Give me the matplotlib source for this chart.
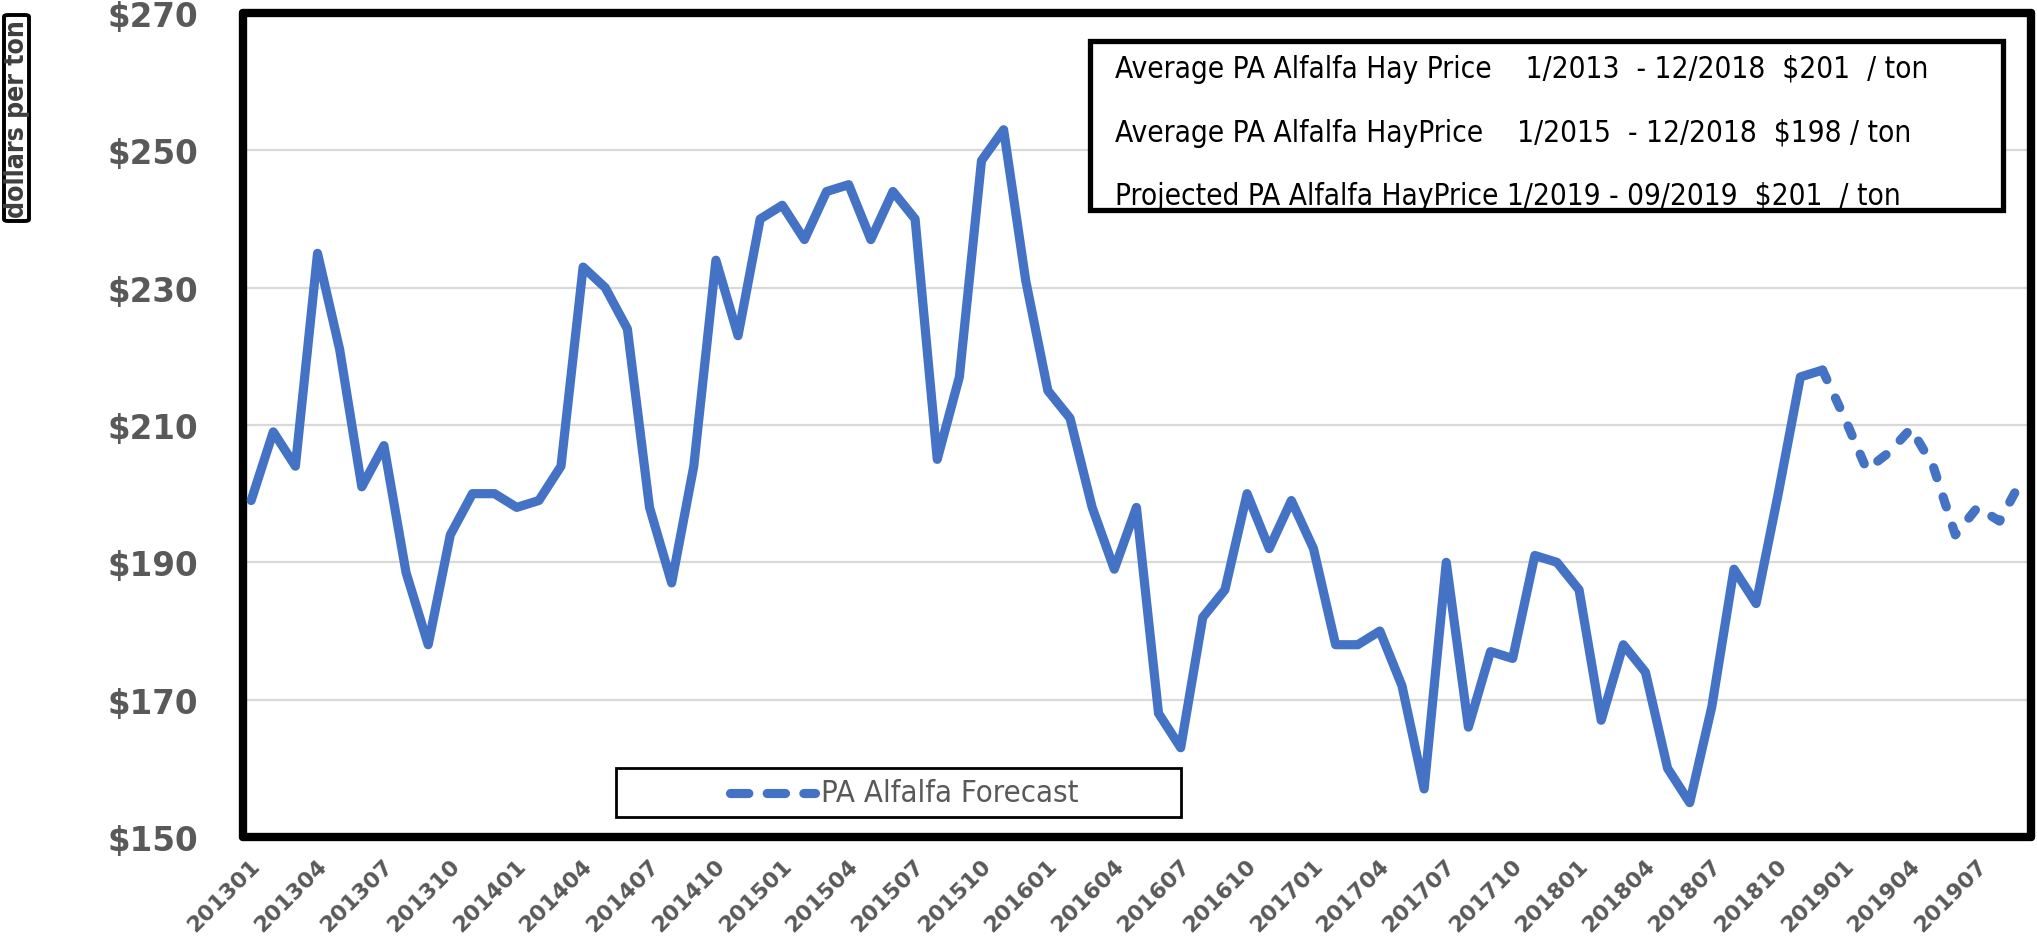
import matplotlib
matplotlib.use("Agg")
import matplotlib.pyplot as plt
from matplotlib.lines import Line2D
from matplotlib.patches import Rectangle, FancyBboxPatch
from matplotlib import font_manager as fm
from matplotlib.transforms import ScaledTranslation
import numpy as np

# ---------------- data ----------------
categories = [f"{y}{m:02d}" for y in range(2013, 2020) for m in range(1, 13)][:81]

# monthly PA alfalfa hay price, 201301 - 201812 ($/ton)
actual = [199, 209, 204, 235, 221, 201, 207, 188.5, 178, 194, 200, 200,
          198, 199, 204, 233, 230, 224, 198, 187, 204, 234, 223, 240,
          242, 237, 244, 245, 237, 244, 240, 205, 217, 248.5, 253, 231,
          215, 211, 198, 189, 198, 168, 163, 182, 186, 200, 192, 199,
          192, 178, 178, 180, 172, 157, 190, 166, 177, 176, 191, 190,
          186, 167, 178, 174, 160, 155, 169, 189, 184, 200, 217, 218]
# forecast, 201812 - 201909
forecast = [218, 211, 203.5, 206, 209.5, 204, 194, 198, 196, 202]

ytick_values = [150, 170, 190, 210, 230, 250, 270]
ytick_labels = ["$150", "$170", "$190", "$210", "$230", "$250", "$270"]
xtick_step = 3

info_lines = [
    "Average PA Alfalfa Hay Price    1/2013  - 12/2018  $201  / ton",
    "Average PA Alfalfa HayPrice    1/2015  - 12/2018  $198 / ton",
    "Projected PA Alfalfa HayPrice 1/2019 - 09/2019  $201  / ton",
]
legend_label = "PA Alfalfa Forecast"
ylabel_text = "dollars per ton"

# ---------------- fonts ----------------
names = {f.name for f in fm.fontManager.ttflist}
if "Liberation Sans Narrow" in names:
    NARROW = dict(family=["Liberation Sans Narrow", "DejaVu Sans"], stretch="normal")
elif any(f.name == "DejaVu Sans" and str(f.stretch) in ("condensed", "semi-condensed")
         for f in fm.fontManager.ttflist):
    NARROW = dict(family=["DejaVu Sans"], stretch="condensed")
else:
    NARROW = dict(family=["Roboto", "DejaVu Sans"], stretch="normal")
TICKFONT = ["DejaVu Sans"]

# ---------------- style ----------------
BLUE = "#4472C4"
GREY = "#595959"
W, H = 2037, 945

fig = plt.figure(figsize=(W / 100, H / 100), dpi=100)
fx = lambda px: px / W
fy = lambda py: 1 - py / H

ax = fig.add_axes([fx(242.5), fy(838), fx(2031) - fx(242.5), fy(14) - fy(838)])

x_act = np.arange(len(actual))
x_fc = np.arange(len(actual) - 1, len(actual) - 1 + len(forecast))
ax.plot(x_act, actual, color=BLUE, lw=6.6, solid_joinstyle="round",
        solid_capstyle="round", zorder=3)
ax.plot(x_fc, forecast, color=BLUE, lw=6.6, dashes=(1.15, 2.2),
        dash_capstyle="round", dash_joinstyle="round", zorder=3)

ax.set_xlim(-0.39, len(categories) - 1 + 0.42)
ax.set_ylim(ytick_values[0], ytick_values[-1])
ax.set_yticks(ytick_values)
ax.set_yticklabels(ytick_labels, fontfamily=TICKFONT, fontweight="bold",
                   fontsize=23.5, color=GREY)
xt = np.arange(0, len(categories), xtick_step)
ax.set_xticks(xt)
ax.set_xticklabels([categories[i] for i in xt], fontfamily=TICKFONT,
                   fontweight="bold", fontsize=16, color=GREY, rotation=45,
                   ha="right", va="center", rotation_mode="anchor")
ax.tick_params(axis="both", length=0)
ax.tick_params(axis="y", pad=32)
ax.tick_params(axis="x", pad=18)
ax.yaxis.grid(True, color="#D9D9D9", lw=1.6)
ax.set_axisbelow(True)
for s in ax.spines.values():
    s.set_linewidth(6.0)
    s.set_color("black")
    s.set_capstyle("round")
    s.set_joinstyle("round")
shift = ScaledTranslation(6 / 100, 0, fig.dpi_scale_trans)
for lab in ax.get_xticklabels():
    lab.set_transform(lab.get_transform() + shift)

# ---------------- info box ----------------
box = Rectangle((fx(1090), fy(211)), fx(2003) - fx(1090), fy(42) - fy(211),
                transform=fig.transFigure, facecolor="white", edgecolor="black",
                lw=3.8, zorder=5, clip_on=False)
ax.add_patch(box)
info_texts = []
for i, line in enumerate(info_lines):
    t = ax.text(fx(1115), fy(78 + 63.5 * i), line, transform=fig.transFigure,
                ha="left", va="baseline", fontsize=18, fontfamily=NARROW["family"],
                fontstretch=NARROW["stretch"], color="black", zorder=6)
    t.set_clip_path(box)
    info_texts.append(t)

# ---------------- legend ----------------
leg_frame = Rectangle((fx(616), fy(818)), fx(1181) - fx(616), fy(769) - fy(818),
                      transform=fig.transFigure, facecolor="white",
                      edgecolor="black", lw=2, zorder=5, clip_on=False)
ax.add_patch(leg_frame)
handle = Line2D([], [], color=BLUE, lw=6.6, dashes=(2.0, 2.0),
                dash_capstyle="round")
leg = fig.legend(handles=[handle], labels=[legend_label], loc="center",
                 bbox_to_anchor=(fx(904), fy(794)), frameon=False,
                 handlelength=3.4, handletextpad=0.25,
                 prop={"family": NARROW["family"], "size": 18,
                       "stretch": NARROW["stretch"]})
for txt in leg.get_texts():
    txt.set_color(GREY)
leg.set_zorder(7)

# ---------------- y label box ----------------
ylab_box = FancyBboxPatch((fx(4), fy(222)), fx(29) - fx(4), fy(16) - fy(222),
                          boxstyle="round,pad=0,rounding_size=0.002",
                          transform=fig.transFigure, facecolor="white",
                          edgecolor="black", lw=2.8)
fig.patches.append(ylab_box)
ylab = fig.text(fx(17), fy(119), ylabel_text, rotation=90, ha="center",
                va="center", fontsize=17, fontweight="bold",
                fontfamily=NARROW["family"], fontstretch=NARROW["stretch"],
                color="#3F3F3F")

# ---------------- fit text sizes ----------------
fig.canvas.draw()
r = fig.canvas.get_renderer()
bb = info_texts[0].get_window_extent(r)
scale = (1928 - 1115) / bb.width
for t in info_texts:
    t.set_fontsize(t.get_fontsize() * scale)
lt = leg.get_texts()[0]
bb = lt.get_window_extent(r)
lt.set_fontsize(lt.get_fontsize() * 258 / bb.width)
bb = ylab.get_window_extent(r)
ylab.set_fontsize(min(ylab.get_fontsize() * 198 / bb.height, 20))

fig.savefig("out.png", dpi=100)
